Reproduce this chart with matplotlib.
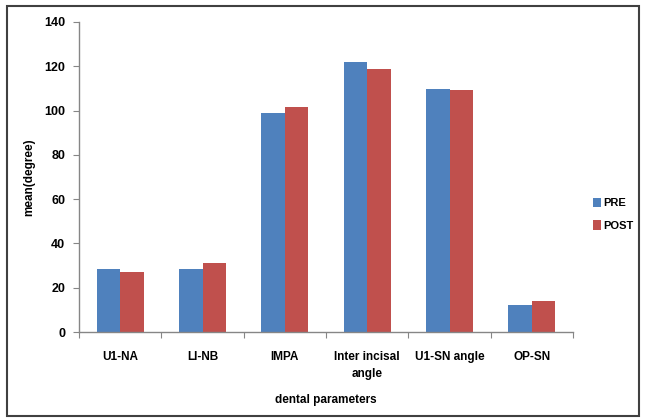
import numpy as np
import matplotlib.pyplot as plt
from matplotlib.patches import Rectangle

# data
categories = ['U1-NA', 'LI-NB', 'IMPA', 'Inter incisal\nangle', 'U1-SN angle', 'OP-SN']
pre = [28.3, 28.3, 99.0, 122.1, 109.9, 12.3]
post = [27.2, 31.0, 101.8, 118.8, 109.3, 14.1]
y_ticks = [0, 20, 40, 60, 80, 100, 120, 140]

plt.rcParams['font.family'] = ['Liberation Sans Narrow', 'Liberation Sans', 'DejaVu Sans']
plt.rcParams['font.weight'] = 'bold'

fig = plt.figure(figsize=(6.46, 4.18), dpi=100)
ax = fig.add_axes([0.1223, 0.2057, 0.7647, 0.7417])

x = np.arange(len(categories))
w = 0.286
ax.bar(x - w / 2, pre, w, color='#4F81BD', label='PRE')
ax.bar(x + w / 2, post, w, color='#C0504D', label='POST')

ax.set_xlim(-0.5, len(categories) - 0.5)
ax.set_ylim(0, 140)
ax.set_yticks(y_ticks)
ax.set_yticklabels([str(t) for t in y_ticks], fontsize=9, fontweight='bold')

# category labels between boundary ticks
ax.set_xticks(np.arange(len(categories) + 1) - 0.5)
ax.set_xticklabels([])
ax.set_xticks(x, minor=True)
ax.set_xticklabels(categories, minor=True, fontsize=8.5, fontweight='bold', linespacing=1.5)
ax.tick_params(axis='x', which='minor', length=0, pad=14)
ax.tick_params(axis='x', which='major', length=4, color='#868686', direction='out')
ax.tick_params(axis='y', length=4, color='#868686', direction='out', pad=6)

for s in ['top', 'right']:
    ax.spines[s].set_visible(False)
for s in ['left', 'bottom']:
    ax.spines[s].set_color('#868686')
    ax.spines[s].set_linewidth(1.0)

ax.set_xlabel('dental parameters', fontsize=8.5, fontweight='bold', labelpad=10)
ax.set_ylabel('mean(degree)', fontsize=8.5, fontweight='bold', labelpad=6)

ax.legend(loc='center left', bbox_to_anchor=(1.02, 0.38), frameon=False,
          handlelength=0.7, handleheight=0.9, handletextpad=0.25,
          labelspacing=1.1, prop={'weight': 'bold', 'size': 8})

# outer frame
fig.patches.append(Rectangle((0.011, 0.004), 0.978, 0.982, transform=fig.transFigure,
                             fill=False, edgecolor='#404040', linewidth=1.5))

fig.savefig('out.png', dpi=100)
